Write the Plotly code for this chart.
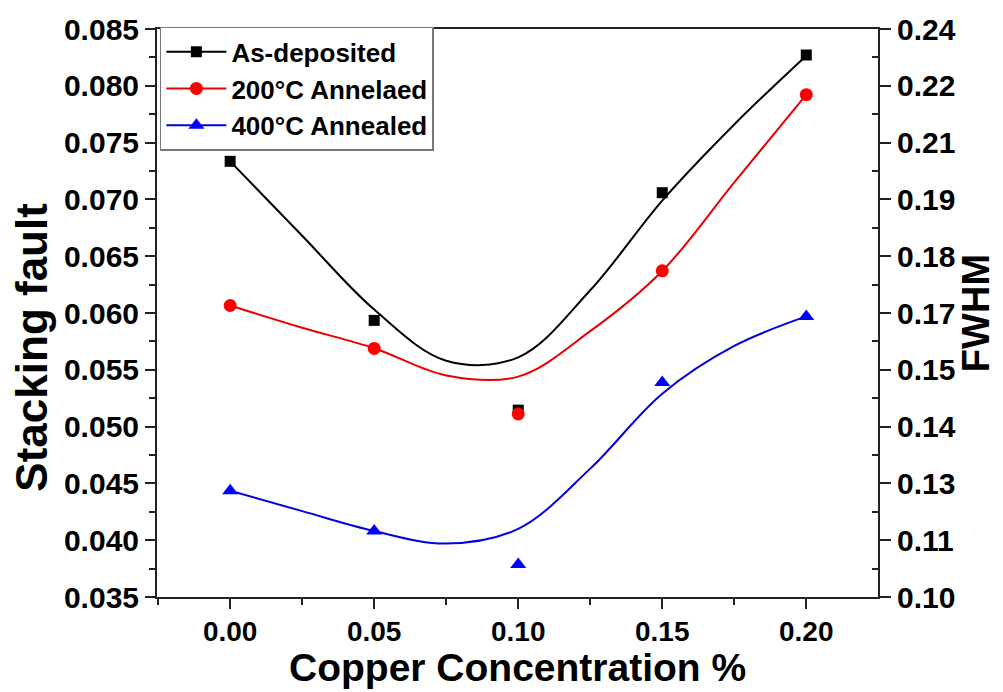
import plotly.graph_objects as go

# ---- data ----
conc = [0.00, 0.05, 0.10, 0.15, 0.20]
as_dep = [0.07335, 0.05935, 0.05145, 0.07059, 0.08271]
ann200 = [0.06066, 0.05688, 0.05112, 0.06371, 0.07922]
ann400 = [0.04436, 0.04081, 0.03785, 0.05389, 0.05970]

# smoothed fit curves
fit_x = [0.000, 0.025, 0.050, 0.075, 0.100, 0.125, 0.150, 0.175, 0.200]
fit_y_dep = [0.07335, 0.06680, 0.06030, 0.05580, 0.05610, 0.06200, 0.06990, 0.07660, 0.08265]
fit_y_200 = [0.06066, 0.05870, 0.05690, 0.05450, 0.05440, 0.05840, 0.06370, 0.07150, 0.07922]
fit_y_400 = [0.04436, 0.04256, 0.04081, 0.03970, 0.04100, 0.04630, 0.05290, 0.05710, 0.05970]

series_names = ["As-deposited", "200°C Annelaed", "400°C Annealed"]
x_title = "Copper Concentration %"
y_title = "Stacking fault"
y2_title = "FWHM"

x_ticks = [0.00, 0.05, 0.10, 0.15, 0.20]
y_ticks = [0.035, 0.040, 0.045, 0.050, 0.055, 0.060, 0.065, 0.070, 0.075, 0.080, 0.085]
y2_tickvals = [0.100, 0.114, 0.128, 0.142, 0.156, 0.170, 0.184, 0.198, 0.212, 0.226, 0.240]
y2_ticktext = ["0.10", "0.11", "0.13", "0.14", "0.15", "0.17", "0.18", "0.19", "0.21", "0.22", "0.24"]

# ---- styles ----
colors = ["#000000", "#e80000", "#0000e0"]
mcolors = ["#000000", "#ff0000", "#0000ff"]
symbols = ["square", "circle", "triangle-up"]
msizes = [11, 13, 14]
FONT = "Arial, 'Liberation Sans', sans-serif"
AX = "#222222"

fig = go.Figure()
fits = [fit_y_dep, fit_y_200, fit_y_400]
pts = [as_dep, ann200, ann400]
for i in range(3):
    fig.add_trace(go.Scatter(x=fit_x, y=fits[i], mode="lines",
                             line=dict(color=colors[i], width=2, shape="spline", smoothing=1.0),
                             showlegend=False, hoverinfo="skip"))
for i in range(3):
    fig.add_trace(go.Scatter(x=conc, y=pts[i], mode="markers",
                             marker=dict(color=mcolors[i], symbol=symbols[i], size=msizes[i]),
                             showlegend=False))
for i in range(3):
    fig.add_trace(go.Scatter(x=[None], y=[None], mode="lines+markers", name=series_names[i],
                             line=dict(color=colors[i], width=2),
                             marker=dict(color=mcolors[i], symbol=symbols[i], size=msizes[i])))
# invisible trace to carry the right axis
fig.add_trace(go.Scatter(x=[0.0], y=[0.17], yaxis="y2", mode="markers",
                         marker=dict(opacity=0), showlegend=False, hoverinfo="skip"))

y2_minor = [(y2_tickvals[k] + y2_tickvals[k + 1]) / 2 for k in range(len(y2_tickvals) - 1)]

TF = dict(size=30, weight="bold")
fig.update_layout(
    width=1003, height=692,
    margin=dict(l=157, r=125, t=23, b=95),
    paper_bgcolor="white", plot_bgcolor="white",
    font=dict(family=FONT, color="#000", size=26, weight="bold"),
    xaxis=dict(range=[-0.0254, 0.2249], tickvals=x_ticks, tickformat=".2f",
               showgrid=False, zeroline=False, showline=True, linecolor=AX, linewidth=2,
               mirror=True, ticks="outside", ticklen=10, tickwidth=2, tickcolor=AX,
               minor=dict(dtick=0.025, tick0=0, ticks="outside", ticklen=6, tickwidth=2, tickcolor=AX),
               tickfont=dict(size=28, weight="bold"), ticklabelstandoff=-2),
    yaxis=dict(range=[0.035, 0.085], tickvals=y_ticks, tickformat=".3f",
               showgrid=False, zeroline=False, showline=True, linecolor=AX, linewidth=2,
               ticks="outside", ticklen=10, tickwidth=2, tickcolor=AX,
               minor=dict(dtick=0.0025, tick0=0.035, ticks="outside", ticklen=6, tickwidth=2, tickcolor=AX),
               tickfont=TF),
    yaxis2=dict(overlaying="y", side="right", range=[0.10, 0.24],
                tickmode="array", tickvals=y2_tickvals, ticktext=y2_ticktext,
                showgrid=False, zeroline=False, showline=True, linecolor=AX, linewidth=2,
                ticks="outside", ticklen=11, tickwidth=2, tickcolor=AX,
                minor=dict(tickmode="array", tickvals=y2_minor, ticks="inside", ticklen=6, tickwidth=2, tickcolor=AX),
                tickfont=TF),
    legend=dict(x=0.004, y=1.004, xanchor="left", yanchor="top",
                bgcolor="white", bordercolor="#777", borderwidth=1.5,
                font=dict(size=26, weight="bold"), tracegroupgap=0, itemwidth=60),
    annotations=[
        dict(text=x_title, xref="paper", yref="paper", x=0.5, y=-0.124,
             xanchor="center", yanchor="middle", showarrow=False,
             font=dict(size=39, weight="bold")),
        dict(text=y_title, xref="paper", yref="paper", x=-0.174, y=0.44,
             xanchor="center", yanchor="middle", showarrow=False, textangle=-90,
             font=dict(size=44, weight="bold")),
        dict(text=y2_title, xref="paper", yref="paper", x=1.168, y=0.5,
             xanchor="right", yanchor="middle", showarrow=False, textangle=-90,
             font=dict(size=38, weight="bold")),
    ],
)

fig.write_html("out.html")
